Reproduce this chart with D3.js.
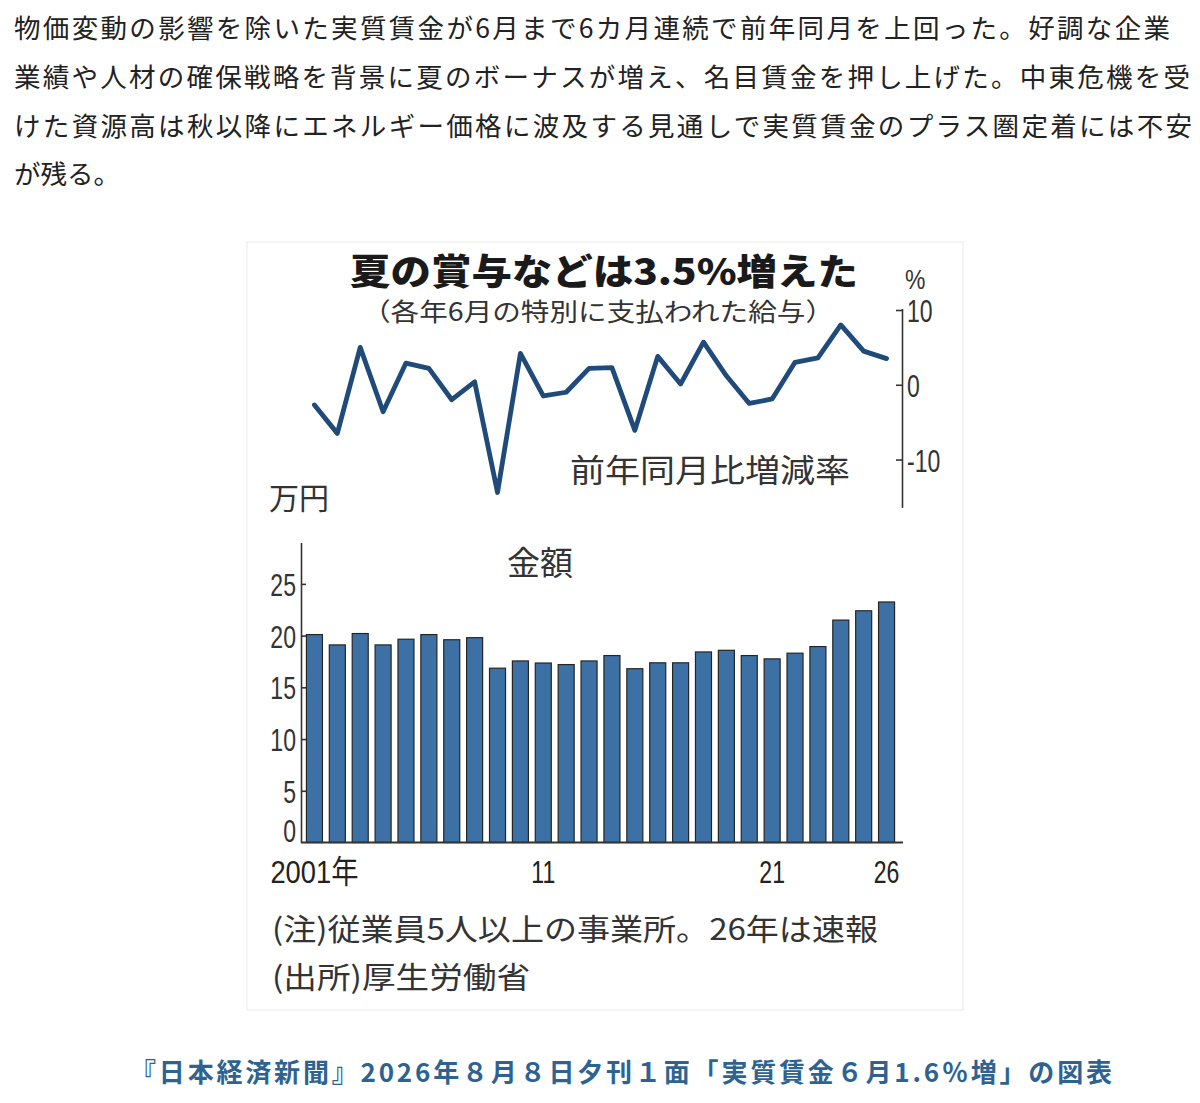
<!DOCTYPE html>
<html>
<head>
<meta charset="utf-8">
<script src="https://cdn.jsdelivr.net/npm/d3@7"></script>
<style>
  body { margin: 0; background: #fff; }
  .jp { font-family: "Noto Sans CJK JP", sans-serif; }
  .num { font-family: "Liberation Sans", Arial, "Noto Sans CJK JP", sans-serif; }
</style>
</head>
<body>
<script>
// data
var years = d3.range(2001, 2027);
var bonus = [20.1, 19.1, 20.2, 19.1, 19.65, 20.1, 19.6, 19.8, 16.85, 17.55,
             17.35, 17.2, 17.55, 18.07, 16.8, 17.37, 17.37, 18.42, 18.58, 18.07,
             17.75, 18.3, 18.94, 21.5, 22.4, 23.25];
var change = [-2.7, -6.5, 5.0, -3.6, 2.9, 2.2, -2.0, 0.4, -14.4, 4.2,
              -1.5, -1.0, 2.2, 2.3, -6.1, 3.8, 0.1, 5.7, 1.2, -2.5,
              -1.9, 3.0, 3.6, 8.0, 4.5, 3.5];
var leftTicks = [0, 5, 10, 15, 20, 25];
var rightTicks = [-10, 0, 10];
var yearTicks = [2001, 2011, 2021, 2026];
var yearLabels = {2001: '2001年', 2011: '11', 2021: '21', 2026: '26'};

var paragraph = [
  '物価変動の影響を除いた実質賃金が6月まで6カ月連続で前年同月を上回った。好調な企業',
  '業績や人材の確保戦略を背景に夏のボーナスが増え、名目賃金を押し上げた。中東危機を受',
  'けた資源高は秋以降にエネルギー価格に波及する見通しで実質賃金のプラス圏定着には不安',
  'が残る。'
];
var paraEnds = [1170, 1190, 1192, null];

var W = 1200, H = 1103;
var svg = d3.select('body').append('svg')
  .attr('width', W)
  .attr('height', H);

// squeeze numbers into a narrow face
function narrow(sel, k) {
  sel.each(function () {
    var len = this.getComputedTextLength();
    d3.select(this).attr('textLength', len * k).attr('lengthAdjust', 'spacingAndGlyphs');
  });
}

// article text
svg.append('g').selectAll('text')
  .data(paragraph)
  .enter()
  .append('text')
  .attr('class', 'jp')
  .attr('x', 14)
  .attr('y', (d, i) => 38 + i * 48.8)
  .attr('font-size', 26.5)
  .attr('fill', '#222')
  .each(function (d, i) {
    if (paraEnds[i]) d3.select(this).attr('textLength', paraEnds[i] - 14).attr('lengthAdjust', 'spacing');
  })
  .text(d => d);

// chart frame
svg.append('rect')
  .attr('x', 247).attr('y', 242)
  .attr('width', 716).attr('height', 768)
  .attr('fill', '#fff')
  .attr('stroke', '#f1f1f1')
  .attr('stroke-width', 1.5);

// scales
var x = d3.scaleBand()
  .domain(years)
  .range([303, 898])
  .paddingInner(0.3)
  .paddingOuter(0.15);

var yL = d3.scaleLinear().domain([0, 29]).range([842.5, 542.5]);
var yR = d3.scaleLinear().domain([-16.4, 10.2]).range([507.4, 308.5]);

// titles
svg.append('text')
  .attr('class', 'jp')
  .attr('x', 350).attr('y', 285)
  .attr('font-size', 36)
  .attr('font-weight', 900)
  .attr('fill', '#1a1a1a')
  .attr('textLength', 508).attr('lengthAdjust', 'spacingAndGlyphs')
  .text('夏の賞与などは3.5%増えた');

svg.append('text')
  .attr('class', 'jp')
  .attr('x', 362).attr('y', 321)
  .attr('font-size', 25)
  .attr('fill', '#333')
  .attr('textLength', 472).attr('lengthAdjust', 'spacingAndGlyphs')
  .text('（各年6月の特別に支払われた給与）');

svg.append('text')
  .attr('class', 'num')
  .attr('x', 905).attr('y', 289)
  .attr('font-size', 27)
  .attr('fill', '#333')
  .text('%')
  .call(narrow, 0.85);

// right axis (percent change)
var rAxis = svg.append('g')
  .attr('transform', 'translate(902,0)')
  .call(d3.axisLeft(yR).tickValues(rightTicks).tickSize(6).tickSizeOuter(0).tickFormat(d => d));
rAxis.select('.domain').attr('stroke', '#333').attr('stroke-width', 1.6);
rAxis.selectAll('.tick line').attr('stroke', '#333').attr('stroke-width', 1.6);
rAxis.selectAll('.tick text')
  .attr('class', 'num')
  .attr('x', 5)
  .attr('dy', '0.36em')
  .attr('text-anchor', 'start')
  .attr('font-size', 32)
  .attr('fill', '#333')
  .call(narrow, 0.72);

// line
var line = d3.line()
  .x((d, i) => x(years[i]) + x.bandwidth() / 2)
  .y(d => yR(d));

svg.append('path')
  .datum(change)
  .attr('d', line)
  .attr('fill', 'none')
  .attr('stroke', '#1f4a79')
  .attr('stroke-width', 4.8)
  .attr('stroke-linejoin', 'round')
  .attr('stroke-linecap', 'round');

svg.append('text')
  .attr('class', 'jp')
  .attr('x', 570).attr('y', 482)
  .attr('font-size', 32)
  .attr('fill', '#333')
  .attr('textLength', 280).attr('lengthAdjust', 'spacingAndGlyphs')
  .text('前年同月比増減率');

svg.append('text')
  .attr('class', 'jp')
  .attr('x', 269).attr('y', 509)
  .attr('font-size', 30)
  .attr('fill', '#333')
  .text('万円');

svg.append('text')
  .attr('class', 'jp')
  .attr('x', 507).attr('y', 575)
  .attr('font-size', 33)
  .attr('fill', '#333')
  .text('金額');

// bars
svg.append('g')
  .selectAll('rect')
  .data(bonus)
  .enter()
  .append('rect')
  .attr('x', (d, i) => x(years[i]))
  .attr('y', d => yL(d))
  .attr('width', x.bandwidth())
  .attr('height', d => yL(0) - yL(d))
  .attr('fill', '#3d71a6')
  .attr('stroke', '#252525')
  .attr('stroke-width', 1.2);

// left axis (amount)
var lAxis = svg.append('g')
  .attr('transform', 'translate(301,0)')
  .call(d3.axisRight(yL).tickValues(leftTicks).tickSize(5).tickSizeOuter(0));
lAxis.select('.domain').attr('stroke', '#333').attr('stroke-width', 1.6);
lAxis.selectAll('.tick line').attr('stroke', '#333').attr('stroke-width', 1.6);
lAxis.selectAll('.tick')
  .filter(d => d === 0).select('line').remove();
lAxis.selectAll('.tick text')
  .attr('class', 'num')
  .attr('x', -5)
  .attr('dy', d => d === 0 ? '-0.02em' : '0.36em')
  .attr('text-anchor', 'end')
  .attr('font-size', 32)
  .attr('fill', '#333')
  .call(narrow, 0.72);

// baseline
var xAxis = svg.append('g')
  .attr('transform', 'translate(0,' + yL(0) + ')')
  .call(d3.axisBottom(x).tickValues(yearTicks).tickSize(0).tickFormat(d => yearLabels[d]));
xAxis.select('.domain')
  .attr('d', 'M301,0H903')
  .attr('stroke', '#333')
  .attr('stroke-width', 2);
xAxis.selectAll('.tick text')
  .attr('class', 'num')
  .attr('y', 18)
  .attr('dy', '0.71em')
  .attr('font-size', 32)
  .attr('fill', '#222')
  .call(narrow, 0.72);
xAxis.selectAll('.tick')
  .filter(d => d === 2001)
  .select('text')
  .attr('text-anchor', 'start')
  .attr('x', -44)
  .attr('textLength', 88);

// notes
svg.append('text')
  .attr('class', 'jp')
  .attr('x', 272).attr('y', 940)
  .attr('font-size', 30)
  .attr('fill', '#333')
  .attr('textLength', 606).attr('lengthAdjust', 'spacingAndGlyphs')
  .text('(注)従業員5人以上の事業所。26年は速報');

svg.append('text')
  .attr('class', 'jp')
  .attr('x', 272).attr('y', 988)
  .attr('font-size', 30)
  .attr('fill', '#333')
  .attr('textLength', 258).attr('lengthAdjust', 'spacingAndGlyphs')
  .text('(出所)厚生労働省');

// caption
svg.append('text')
  .attr('class', 'jp')
  .attr('x', 130).attr('y', 1082)
  .attr('font-size', 26)
  .attr('font-weight', 700)
  .attr('fill', '#2e6391')
  .attr('textLength', 982).attr('lengthAdjust', 'spacing')
  .text('『日本経済新聞』2026年８月８日夕刊１面「実質賃金６月1.6％増」の図表');
</script>
</body>
</html>
